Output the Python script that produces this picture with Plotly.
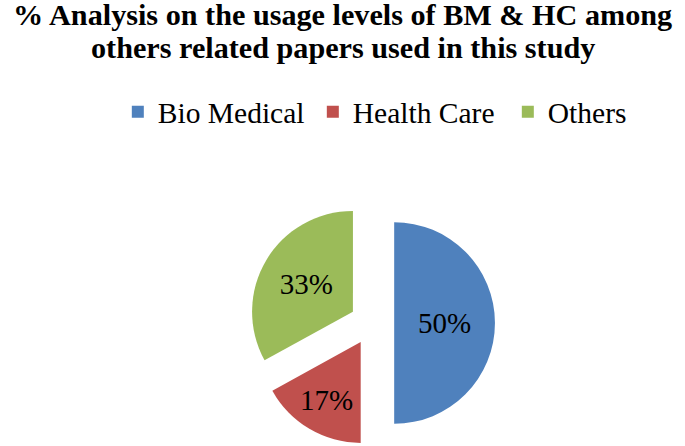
import plotly.graph_objects as go

categories = ["Bio Medical", "Health Care", "Others"]
values = [50, 17, 33]
colors = ["#4F81BD", "#C0504D", "#9BBB59"]
title_lines = ["% Analysis on the usage levels of BM &amp; HC among",
               "others related papers used in this study"]

W, H = 685, 446
T = 200  # top margin in px
PH = H - T
SERIF = "Liberation Serif"

def py(p):  # pixel y (from top) -> paper y
    return (H - p) / PH

cx, half = 372, 123
fig = go.Figure(go.Pie(
    labels=categories,
    values=values,
    marker=dict(colors=colors, line=dict(width=0)),
    sort=False,
    direction="clockwise",
    rotation=0,
    pull=[0.22, 0.22, 0.22],
    texttemplate="%{percent:.0%}",
    textposition="inside",
    insidetextorientation="horizontal",
    insidetextfont=dict(family=SERIF, size=29, color="black"),
    domain=dict(x=[(cx - half) / W, (cx + half) / W], y=[0, 1]),
    hoverinfo="label+percent",
))

fig.update_layout(
    width=W, height=H,
    margin=dict(l=0, r=0, t=T, b=0, autoexpand=False),
    paper_bgcolor="white",
    plot_bgcolor="white",
    font=dict(family=SERIF, color="black"),
    showlegend=True,
    legend=dict(orientation="h", x=0.172, xanchor="left",
                yref="container", y=1 - 86 / H, yanchor="top",
                entrywidth=150, entrywidthmode="pixels",
                font=dict(family=SERIF, size=29.5, color="black"),
                traceorder="normal"),
    annotations=[
        dict(text="<b>" + title_lines[0] + "</b>", xref="paper", yref="paper",
             x=0.5, y=py(15), xanchor="center", yanchor="middle", showarrow=False,
             borderpad=0,
             font=dict(family=SERIF, size=30.2, color="black")),
        dict(text="<b>" + title_lines[1] + "</b>", xref="paper", yref="paper",
             x=0.5, y=py(48), xanchor="center", yanchor="middle", showarrow=False,
             borderpad=0,
             font=dict(family=SERIF, size=30.2, color="black")),
    ],
)

fig.write_html("out.html", config={"displayModeBar": False},
               post_script="document.body.style.margin='0px';document.body.style.overflow='hidden';")
